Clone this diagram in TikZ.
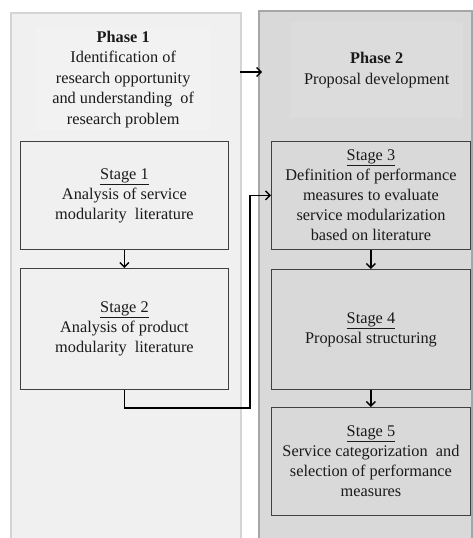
\documentclass[tikz,border=0pt]{standalone}
\usepackage{fontspec}
\setmainfont{Liberation Serif}
\usetikzlibrary{arrows.meta}
\definecolor{pOneFill}{HTML}{F0F0F0}
\definecolor{pOneHead}{HTML}{F2F2F2}
\definecolor{pOneLine}{HTML}{D4D4D4}
\definecolor{pTwoFill}{HTML}{D9D9D9}
\definecolor{pTwoHead}{HTML}{DCDCDC}
\definecolor{pTwoLine}{HTML}{A6A6A6}
\definecolor{boxLine}{HTML}{404040}
\definecolor{txt}{HTML}{1A1A1A}
\tikzset{
  x=1pt, y=-1pt,
  panel/.style={rectangle, anchor=north west, inner sep=0pt, line width=2pt},
  header/.style={rectangle, anchor=north west, inner sep=0pt, align=center, text=txt,
    font=\fontsize{16.3}{20.5}\selectfont},
  stagebox/.style={rectangle, anchor=north west, inner sep=0pt, align=center, text=txt,
    draw=boxLine, line width=0.9pt, minimum width=208pt,
    font=\fontsize{16.3}{20}\selectfont},
  arr/.style={draw=black, line width=1.3pt, -{Straight Barb[length=4.5pt,width=9pt,line width=1.4pt]}},
}
\begin{document}
\begin{tikzpicture}
\useasboundingbox (0,0) rectangle (473,538);
\clip (0,0) rectangle (473,538);
% panels
\node[panel, fill=pOneFill, draw=pOneLine, minimum width=230pt, minimum height=540pt] (p1) at (10,12) {};
\node[panel, fill=pTwoFill, draw=pTwoLine, minimum width=213pt, minimum height=540pt] (p2) at (258,10) {};
% headers
\node[header, fill=pOneHead, minimum width=174pt, minimum height=102pt] (h1) at (36,28)
  {\textbf{Phase 1}\\Identification of\\research opportunity\\and understanding\ \ of\\research problem};
\node[header, fill=pTwoHead, minimum width=173pt, minimum height=96pt] (h2) at (290,22)
  {\textbf{Phase 2}\\Proposal development};
% stages
\node[stagebox, fill=pOneFill, minimum height=108pt] (s1) at (20,141)
  {\underline{Stage 1}\\Analysis of service\\modularity\ \ literature};
\node[stagebox, fill=pOneFill, minimum height=121pt] (s2) at (20,268)
  {\underline{Stage 2}\\Analysis of product\\modularity\ \ literature};
\node[stagebox, fill=pTwoFill, minimum width=199pt, minimum height=108pt] (s3) at (271,141)
  {\underline{Stage 3}\\Definition of performance\\measures to evaluate\\service modularization\\based on literature};
\node[stagebox, fill=pTwoFill, minimum width=199pt, minimum height=120pt] (s4) at (271,269)
  {\underline{Stage 4}\\Proposal structuring};
\node[stagebox, fill=pTwoFill, minimum width=199pt, minimum height=108pt] (s5) at (271,407)
  {\underline{Stage 5}\\Service categorization\ \ and\\selection of performance\\measures};
% connectors
\coordinate (a1) at (240,72);
\coordinate (a2) at (262,72);
\draw[arr] (a1) -- (a2);
\draw[arr] (s1.south) -- (s2.north);
\draw[arr] (s3.south) -- (s4.north);
\draw[arr] (s4.south) -- (s5.north);
\coordinate (k) at (250,408);
\draw[arr] (s2.south) |- (k) |- (s3.west);
\end{tikzpicture}
\end{document}
